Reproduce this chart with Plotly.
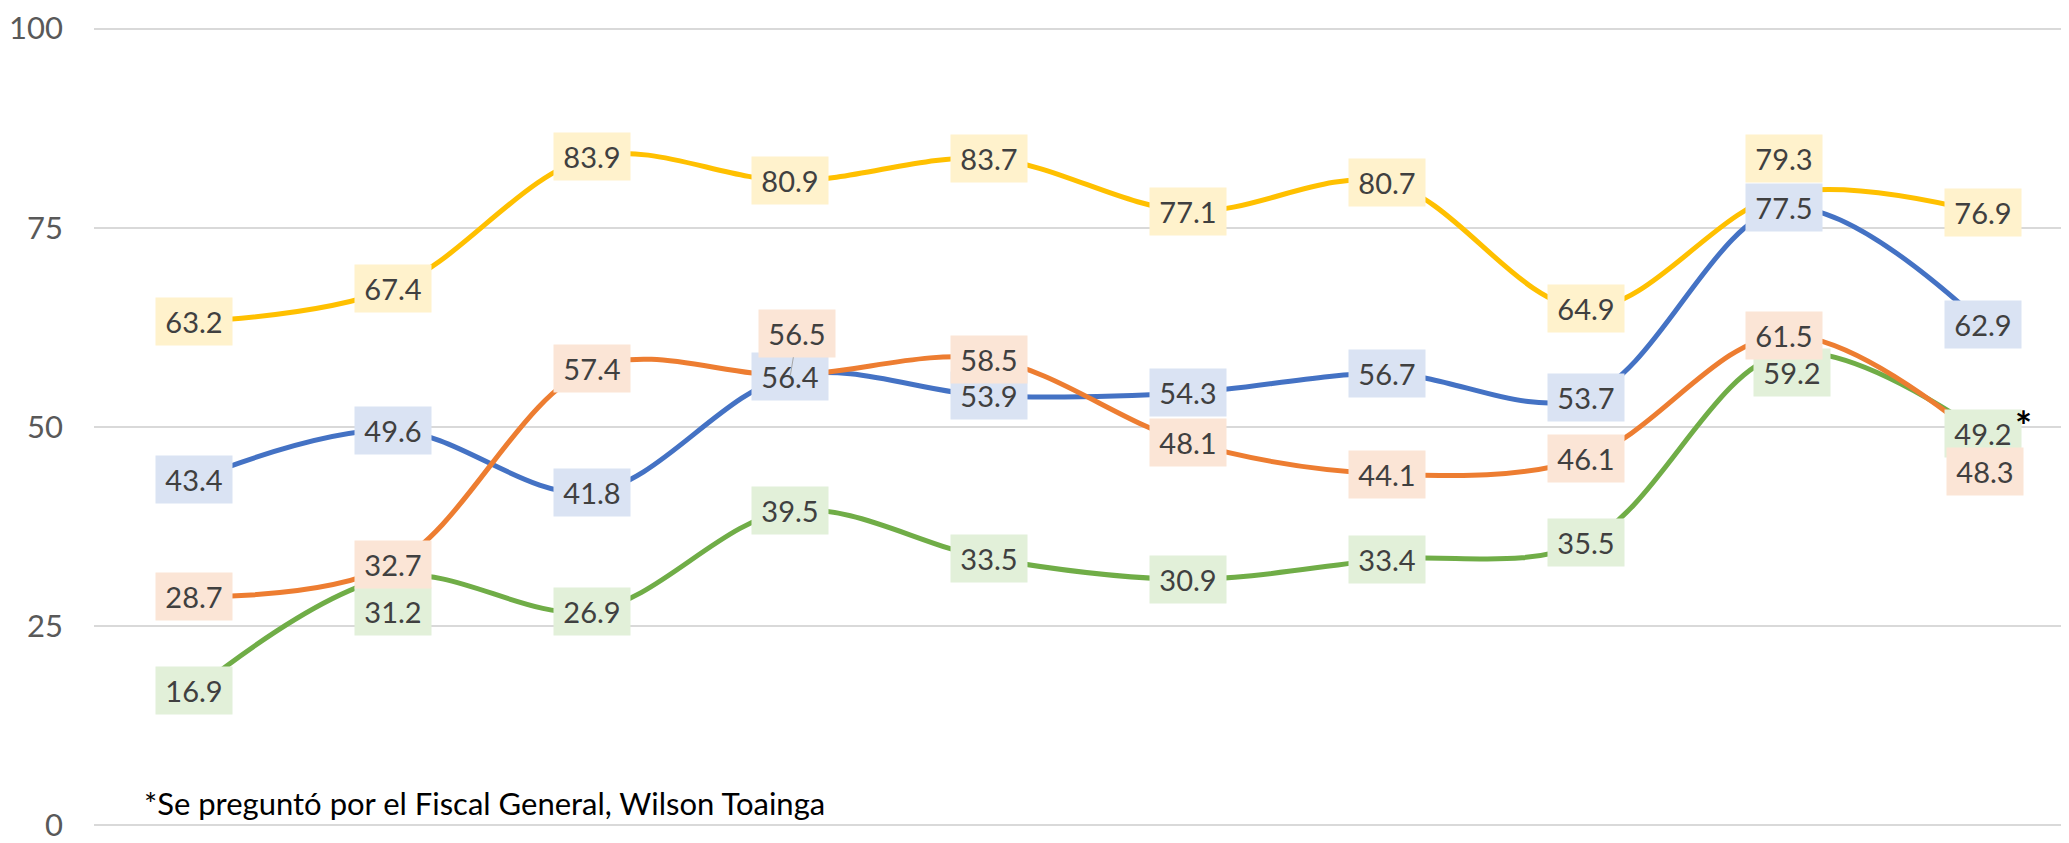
import plotly.graph_objects as go

# survey rounds (category names are not shown on the chart)
rounds = ["R1", "R2", "R3", "R4", "R5", "R6", "R7", "R8", "R9", "R10"]

blue_vals = [43.4, 49.6, 41.8, 56.4, 53.9, 54.3, 56.7, 53.7, 77.5, 62.9]
orange_vals = [28.7, 32.7, 57.4, 56.5, 58.5, 48.1, 44.1, 46.1, 61.5, 48.3]
yellow_vals = [63.2, 67.4, 83.9, 80.9, 83.7, 77.1, 80.7, 64.9, 79.3, 76.9]
green_vals = [16.9, 31.2, 26.9, 39.5, 33.5, 30.9, 33.4, 35.5, 59.2, 49.2]

y_ticks = [0, 25, 50, 75, 100]
footnote = "*Se preguntó por el Fiscal General, Wilson Toainga"

series = [
    ("green", green_vals, "#70AD47", "#E2F0D9"),
    ("blue", blue_vals, "#4472C4", "#DAE3F3"),
    ("yellow", yellow_vals, "#FFC000", "#FFF2CC"),
    ("orange", orange_vals, "#ED7D31", "#FBE5D6"),
]

# pixel nudges for labels that were moved off their point
nudges = {
    ("yellow", 8): (0, 35),
    ("orange", 9): (2, -31),
    ("green", 1): (0, -35),
    ("green", 8): (8, -19),
}

FONT = "Lato"

fig = go.Figure()

for name, vals, color, _ in series:
    fig.add_trace(
        go.Scatter(
            x=rounds,
            y=vals,
            name=name,
            mode="lines",
            line=dict(color=color, width=5, shape="spline", smoothing=1),
            showlegend=False,
        )
    )

annotations = []
for name, vals, color, bg in series:
    for i, v in enumerate(vals):
        label = dict(
            x=rounds[i],
            y=v,
            text=f"{v:.1f}",
            font=dict(family=FONT, size=29, color="#404040"),
            bgcolor=bg,
            borderpad=6,
            width=64,
            showarrow=False,
        )
        if name == "orange" and i == 3:
            # label lifted above the blue one, with a leader line
            label.update(
                showarrow=True, arrowhead=0, arrowwidth=1,
                arrowcolor="#A6A6A6", ax=7, ay=-42,
            )
        else:
            dx, dy = nudges.get((name, i), (0, 0))
            label.update(xshift=dx, yshift=dy)
        annotations.append(label)

# asterisk next to the last green label
annotations.append(
    dict(
        x=rounds[9], y=green_vals[9], text="<b>*</b>",
        font=dict(family=FONT, size=40, color="#000000"),
        showarrow=False, xshift=40, yshift=7,
    )
)

annotations.append(
    dict(
        xref="paper", yref="paper", x=0.0243, y=0.0296,
        xanchor="left", yanchor="middle",
        text=footnote, showarrow=False,
        font=dict(family=FONT, size=31, color="#000000"),
    )
)

# page body adds an 8px margin, so the figure is 8px smaller
fig.update_layout(
    width=2061,
    height=835,
    margin=dict(l=86, r=0, t=14, b=7),
    plot_bgcolor="white",
    paper_bgcolor="white",
    annotations=annotations,
    xaxis=dict(
        type="category",
        range=[-0.503, 9.432],
        showticklabels=False,
        showgrid=False,
        zeroline=False,
        showline=False,
    ),
    yaxis=dict(
        range=[-0.2, 100.2],
        tickvals=y_ticks,
        showgrid=True,
        gridcolor="#D9D9D9",
        gridwidth=2,
        zeroline=False,
        showline=False,
        ticks="",
        ticklabelstandoff=30,
        ticklabeloverflow="allow",
        tickfont=dict(family=FONT, size=31, color="#595959"),
    ),
)

fig.write_html("out.html")
